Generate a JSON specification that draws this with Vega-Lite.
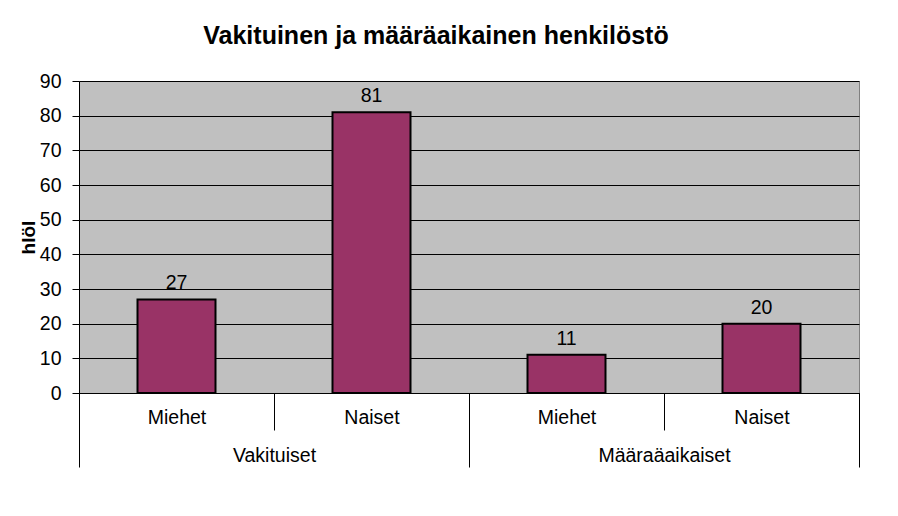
{
  "$schema": "https://vega.github.io/schema/vega-lite/v6.json",
  "width": 780,
  "height": 312,
  "autosize": {"type": "none"},
  "padding": {"left": 79, "top": 81, "right": 39, "bottom": 123},
  "background": "white",
  "title": {
    "text": "Vakituinen ja määräaikainen henkilöstö",
    "font": "Liberation Sans",
    "fontSize": 25,
    "fontWeight": "bold",
    "color": "black",
    "anchor": "middle",
    "frame": "group",
    "baseline": "alphabetic",
    "offset": 2,
    "dx": -33
  },
  "data": {
    "values": [
      {"tyyppi": "Vakituiset", "sukupuoli": "Miehet", "ryhma": "Vakituiset Miehet", "hlo": 27},
      {"tyyppi": "Vakituiset", "sukupuoli": "Naiset", "ryhma": "Vakituiset Naiset", "hlo": 81},
      {"tyyppi": "Määraäaikaiset", "sukupuoli": "Miehet", "ryhma": "Määraäaikaiset Miehet", "hlo": 11},
      {"tyyppi": "Määraäaikaiset", "sukupuoli": "Naiset", "ryhma": "Määraäaikaiset Naiset", "hlo": 20}
    ]
  },
  "config": {
    "view": {"fill": "#C0C0C0", "stroke": "#808080", "strokeWidth": 1},
    "font": "Liberation Sans",
    "axisY": {
      "values": [0, 10, 20, 30, 40, 50, 60, 70, 80, 90],
      "tickCount": 10,
      "labelOverlap": false
    }
  },
  "layer": [
    {
      "layer": [
        {
          "mark": {"type": "bar", "fill": "#993366", "stroke": "black", "strokeWidth": 2, "width": {"band": 0.4}},
          "encoding": {
            "x": {
              "field": "ryhma",
              "type": "nominal",
              "sort": null,
              "scale": {"paddingInner": 0, "paddingOuter": 0},
              "axis": {
                "title": null,
                "orient": "bottom",
                "labelExpr": "split(datum.label, ' ')[1]",
                "tickBand": "extent",
                "tickSize": 37,
                "tickColor": "black",
                "tickWidth": 1,
                "domainColor": "black",
                "domainWidth": 1,
                "labelPadding": -22,
                "labelFont": "Liberation Sans",
                "labelFontSize": 19.5,
                "labelColor": "black",
                "labelAngle": 0,
                "grid": false
              }
            },
            "y": {
              "field": "hlo",
              "type": "quantitative",
              "scale": {"domain": [0, 90], "nice": false},
              "axis": {
                "values": [0, 10, 20, 30, 40, 50, 60, 70, 80, 90],
                "tickCount": 10,
                "labelOverlap": false,
                "grid": true,
                "gridColor": "black",
                "gridWidth": 1,
                "gridOpacity": 1,
                "domain": true,
                "domainColor": "black",
                "tickColor": "black",
                "tickSize": 7,
                "labelPadding": 11,
                "labelFont": "Liberation Sans",
                "labelFontSize": 19.5,
                "labelColor": "black",
                "title": "hlöl",
                "titleFont": "Liberation Sans",
                "titleFontSize": 19,
                "titleFontWeight": "bold",
                "titleColor": "black",
                "titleX": -45,
                "titleY": 156,
                "titleBaseline": "alphabetic",
                "titleAngle": -90,
                "titleAlign": "center"
              }
            }
          }
        },
        {
          "mark": {"type": "text", "baseline": "alphabetic", "dy": -10, "fontSize": 19.5, "font": "Liberation Sans", "color": "black"},
          "encoding": {
            "x": {"field": "ryhma", "type": "nominal", "sort": null},
            "y": {"field": "hlo", "type": "quantitative"},
            "text": {"field": "hlo", "type": "quantitative"}
          }
        }
      ]
    },
    {
      "mark": {"type": "text", "opacity": 0},
      "encoding": {
        "x": {
          "field": "tyyppi",
          "type": "nominal",
          "sort": null,
          "scale": {"paddingInner": 0, "paddingOuter": 0},
          "axis": {
            "title": null,
            "orient": "bottom",
            "tickBand": "extent",
            "tickSize": 74,
            "tickColor": "black",
            "tickWidth": 1,
            "domain": false,
            "labelPadding": -21,
            "labelFont": "Liberation Sans",
            "labelFontSize": 19.5,
            "labelColor": "black",
            "labelAngle": 0,
            "grid": false
          }
        },
        "text": {"value": ""}
      }
    }
  ],
  "resolve": {"scale": {"x": "independent"}, "axis": {"x": "independent"}}
}
